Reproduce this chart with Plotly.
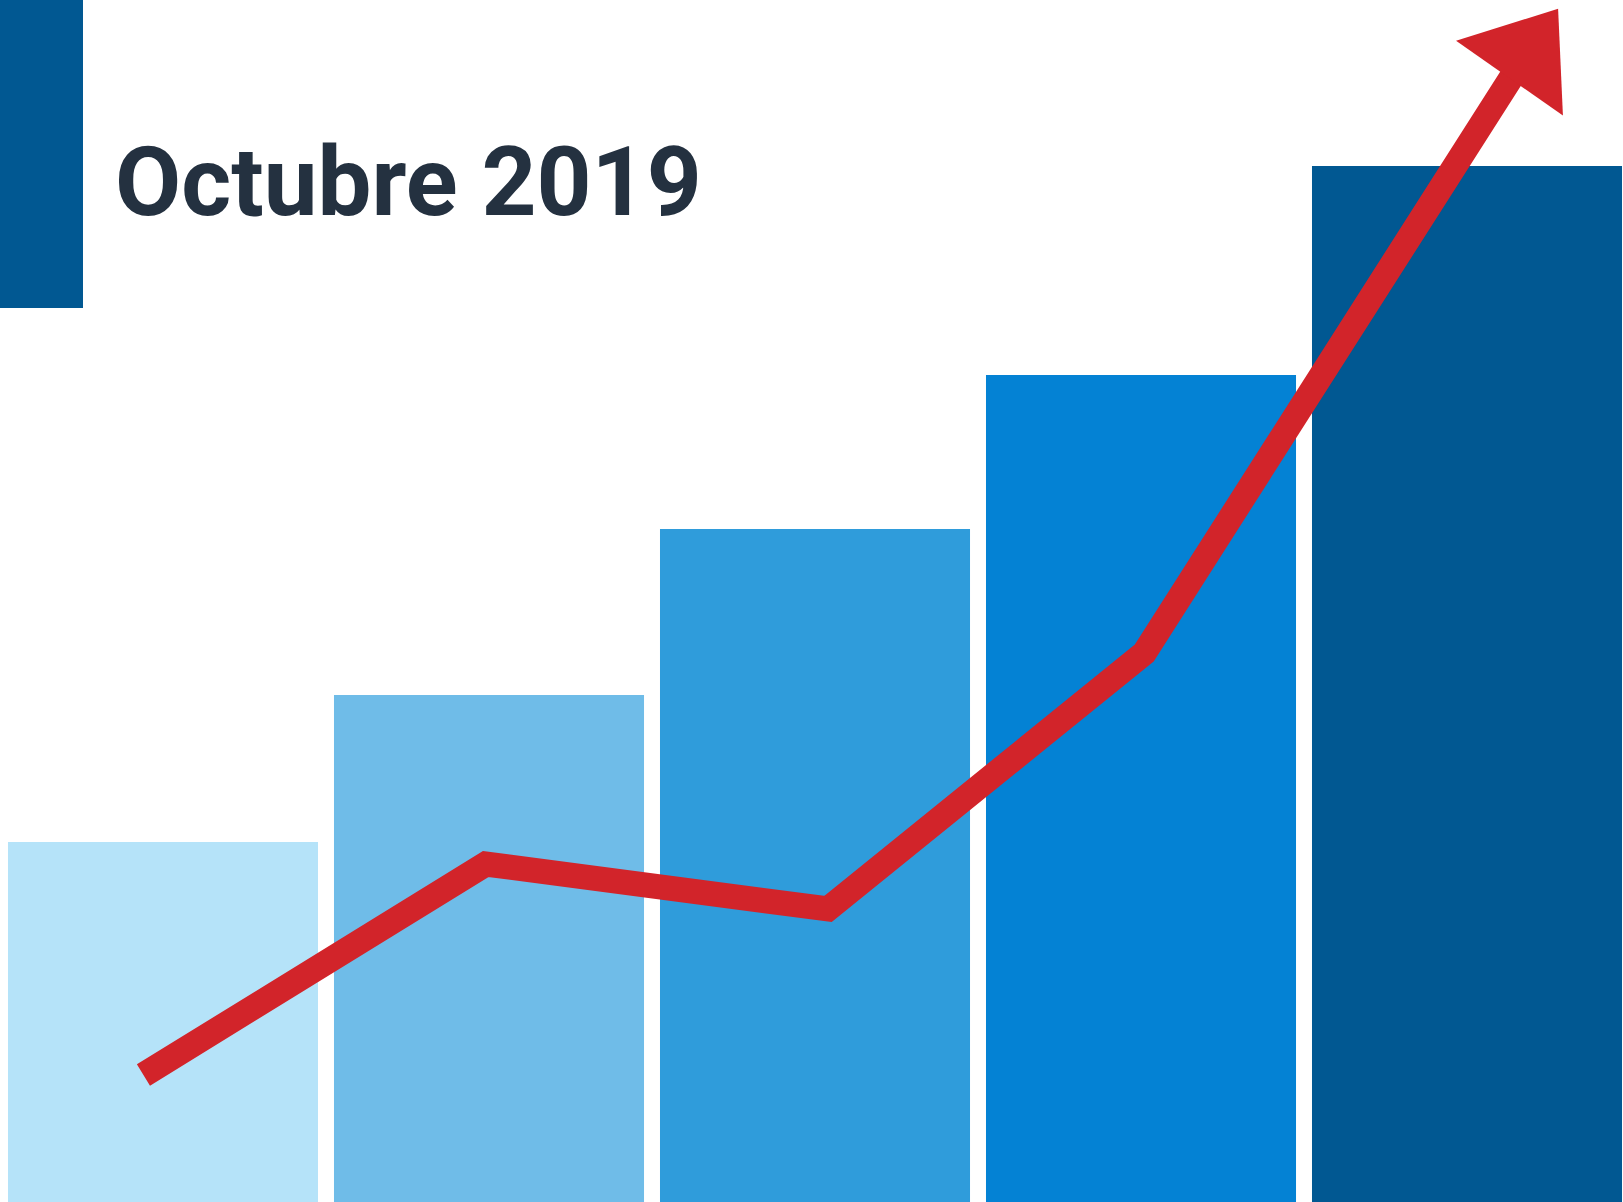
import plotly.graph_objects as go

# ---- data ----
categories = [0, 1, 2, 3, 4]
bar_values = [360, 507, 673, 827, 1036]
bar_colors = ["#B5E3F9", "#6FBCE8", "#2F9CDB", "#0482D4", "#015892"]

trend_x = [-0.06, 0.99, 2.04, 3.01, 4.18]
trend_y = [127, 338, 293, 549, 1147]

title_text = "Octubre 2019"

W, H = 1623, 1202
RED = "#D2242A"

fig = go.Figure()

fig.add_trace(go.Bar(
    x=categories, y=bar_values,
    marker=dict(color=bar_colors, line=dict(width=0)),
    width=0.951, hoverinfo="skip",
))

fig.add_trace(go.Scatter(
    x=trend_x, y=trend_y, mode="lines",
    line=dict(color=RED, width=25, shape="linear"),
    hoverinfo="skip",
))

fig.add_trace(go.Scatter(
    x=trend_x[-1:], y=trend_y[-1:], mode="markers",
    marker=dict(symbol="triangle-up", size=113, angle=35, color=RED,
                line=dict(width=0)),
    hoverinfo="skip",
))

fig.add_shape(type="rect", xref="paper", yref="paper",
              x0=0, x1=83 / W, y0=1 - 308 / H, y1=1,
              fillcolor="#015892", line=dict(width=0), layer="above")

fig.add_annotation(
    text="<b>" + title_text + "</b>", xref="paper", yref="paper",
    x=113 / W, y=1 - 182.5 / H, xanchor="left", yanchor="middle",
    showarrow=False,
    font=dict(family="Roboto, Liberation Sans, Arial, sans-serif", size=96, color="#243140"),
)

fig.update_layout(
    width=W, height=H,
    margin=dict(l=0, r=0, t=0, b=0, pad=0),
    paper_bgcolor="white", plot_bgcolor="white",
    showlegend=False,
    xaxis=dict(range=[-0.5, 4.4785], visible=False, fixedrange=True),
    yaxis=dict(range=[0, 1202], visible=False, fixedrange=True),
)

fig.write_html("out.html", config={"displayModeBar": False},
               post_script="document.body.style.margin='0';document.body.style.overflow='hidden';")
